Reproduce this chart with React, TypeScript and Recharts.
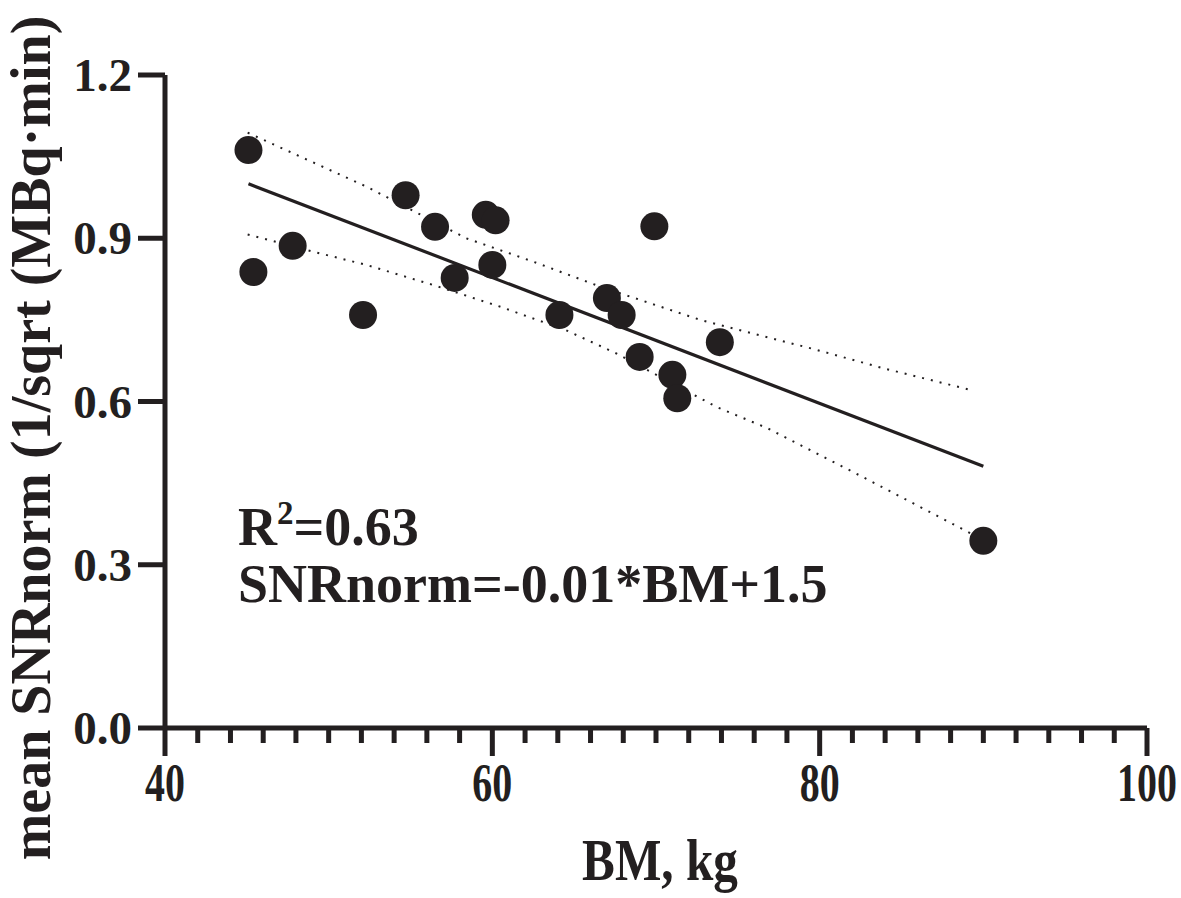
import React from "react";
import { ScatterChart, Scatter, XAxis, YAxis } from "recharts";

const INK = "#231f20";
const SERIF = "'Liberation Serif', 'Times New Roman', serif";

// Observed points (BM in kg, mean SNRnorm)
const bmValues = [45.1, 45.4, 47.8, 52.1, 54.7, 56.5, 57.7, 59.6, 60.2, 60.0, 64.1, 67.0, 67.9, 69.9, 69.0, 71.0, 71.3, 73.9, 90.0];
const snrValues = [1.062, 0.838, 0.886, 0.759, 0.979, 0.921, 0.827, 0.943, 0.933, 0.851, 0.759, 0.790, 0.759, 0.922, 0.682, 0.649, 0.606, 0.709, 0.344];

// Regression line end points
const fitBM = [45.1, 90.0];
const fitSNR = [1.0, 0.481];

// Confidence band (dotted)
const upperBM = [45.05, 52.3, 58.4, 62.5, 66.6, 72.7, 79.8, 83.9, 89.4];
const upperSNR = [1.094, 0.995, 0.9, 0.857, 0.811, 0.75, 0.695, 0.661, 0.62];
const lowerBM = [45.05, 49.1, 52.3, 56.4, 60.5, 64.5, 67.6, 73.7, 76.8, 82.2, 85.9, 89.2];
const lowerSNR = [0.907, 0.875, 0.851, 0.814, 0.774, 0.731, 0.688, 0.59, 0.551, 0.468, 0.41, 0.358];

// Axis ticks
const xTicks = [40, 42, 44, 46, 48, 50, 52, 54, 56, 58, 60, 62, 64, 66, 68, 70, 72, 74, 76, 78, 80, 82, 84, 86, 88, 90, 92, 94, 96, 98, 100];
const xMajorTicks = [40, 60, 80, 100];
const yTicks = [0, 0.3, 0.6, 0.9, 1.2];

const xTitle = "BM, kg";
const yTitle = "mean SNRnorm (1/sqrt (MBq·min)";
const r2Text = "0.63";
const eqText = "SNRnorm=-0.01*BM+1.5";

const zip = (xs: number[], ys: number[]) => xs.map((x, i) => ({ x, y: ys[i] }));
const points = zip(bmValues, snrValues);
const fitLine = zip(fitBM, fitSNR);
const upperBand = zip(upperBM, upperSNR);
const lowerBand = zip(lowerBM, lowerSNR);

const XTick = (props: any) => {
  const { x, y, payload } = props;
  const v = payload.value as number;
  const major = xMajorTicks.includes(v);
  return (
    <g>
      <line x1={x} x2={x} y1={y} y2={y + (major ? 28 : 15)} stroke={INK} strokeWidth={5} />
      {major && (
        <text
          transform={`translate(${x},${y + 73}) scale(0.74,1)`}
          textAnchor="middle"
          fontFamily={SERIF}
          fontWeight="bold"
          fontSize={54}
          fill={INK}
        >
          {v}
        </text>
      )}
    </g>
  );
};

const YTick = (props: any) => {
  const { x, y, payload } = props;
  const v = payload.value as number;
  return (
    <g>
      <line x1={x - 27} x2={x} y1={y} y2={y} stroke={INK} strokeWidth={5} />
      <text
        x={x - 33}
        y={y + 16}
        textAnchor="end"
        fontFamily={SERIF}
        fontWeight="bold"
        fontSize={47}
        fill={INK}
      >
        {v.toFixed(1)}
      </text>
    </g>
  );
};

const Dot = (props: any) => <circle cx={props.cx} cy={props.cy} r={14} fill={INK} />;
const NoShape = () => <g />;

export default function App() {
  return (
    <div style={{ position: "absolute", left: 0, top: 0, width: 1181, height: 898, background: "#fff" }}>
      <ScatterChart width={1181} height={898} margin={{ top: 75, right: 34, bottom: 0, left: 0 }}>
        <XAxis
          type="number"
          dataKey="x"
          domain={[40, 100]}
          ticks={xTicks}
          interval={0}
          allowDataOverflow
          height={170}
          tickSize={0}
          tickMargin={0}
          tickLine={false}
          axisLine={{ stroke: INK, strokeWidth: 5 }}
          tick={<XTick />}
        />
        <YAxis
          type="number"
          dataKey="y"
          domain={[0, 1.2]}
          ticks={yTicks}
          interval={0}
          allowDataOverflow
          width={165}
          tickSize={0}
          tickMargin={0}
          tickLine={false}
          axisLine={{ stroke: INK, strokeWidth: 5 }}
          tick={<YTick />}
        />
        <Scatter
          data={upperBand}
          line={{ stroke: INK, strokeWidth: 2, strokeDasharray: "2 7" }}
          lineType="joint"
          shape={<NoShape />}
          isAnimationActive={false}
        />
        <Scatter
          data={lowerBand}
          line={{ stroke: INK, strokeWidth: 2, strokeDasharray: "2 7" }}
          lineType="joint"
          shape={<NoShape />}
          isAnimationActive={false}
        />
        <Scatter
          data={fitLine}
          line={{ stroke: INK, strokeWidth: 3.2 }}
          lineType="joint"
          shape={<NoShape />}
          isAnimationActive={false}
        />
        <Scatter data={points} shape={<Dot />} isAnimationActive={false} />
      </ScatterChart>
      <svg
        width={1181}
        height={898}
        style={{ position: "absolute", left: 0, top: 0, pointerEvents: "none" }}
      >
        <text
          transform="translate(660,880) scale(0.82,1)"
          textAnchor="middle"
          fontFamily={SERIF}
          fontWeight="bold"
          fontSize={60}
          fill={INK}
        >
          {xTitle}
        </text>
        <text
          transform="translate(50,438) rotate(-90)"
          textAnchor="middle"
          fontFamily={SERIF}
          fontWeight="bold"
          fontSize={56}
          fill={INK}
        >
          {yTitle}
        </text>
        <text x={238} y={545} fontFamily={SERIF} fontWeight="bold" fontSize={54} fill={INK}>
          R<tspan fontSize={33} dy={-21}>2</tspan>
          <tspan dy={21}>={r2Text}</tspan>
        </text>
        <text x={238} y={602} fontFamily={SERIF} fontWeight="bold" fontSize={54} fill={INK}>
          {eqText}
        </text>
      </svg>
    </div>
  );
}
